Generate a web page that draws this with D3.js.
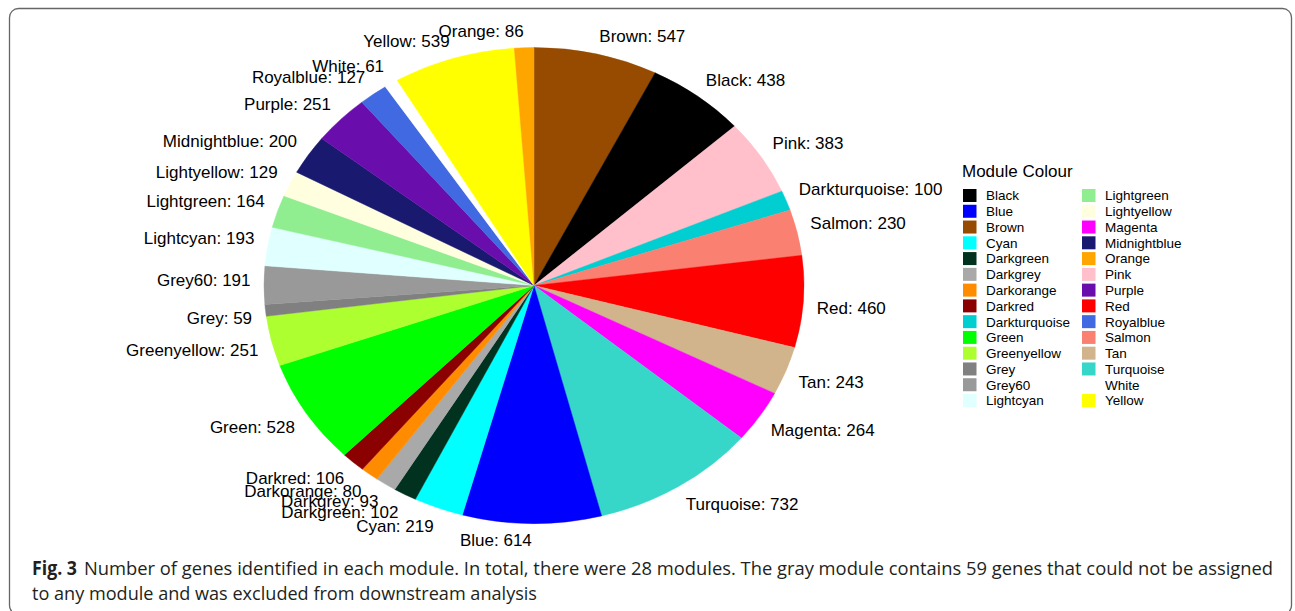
<!DOCTYPE html>
<html>
<head>
<meta charset="utf-8">
<script src="https://cdn.jsdelivr.net/npm/d3@7"></script>
<style>
	body { margin: 0; background: #fff; }
	svg { display: block; }
	.lbl { font-family: "Liberation Sans", Arial, sans-serif; font-size: 17px; fill: #000; }
	.leg { font-family: "Liberation Sans", Arial, sans-serif; font-size: 13.5px; fill: #000; }
	.cap { font-family: "Open Sans", "Noto Sans", sans-serif; font-size: 19px; fill: #231f20; }
</style>
</head>
<body>
<div id="chart"></div>
<script>
	// slices in drawing order, clockwise from 12 o'clock
	var modules = ["Brown", "Black", "Pink", "Darkturquoise", "Salmon", "Red", "Tan",
		"Magenta", "Turquoise", "Blue", "Cyan", "Darkgreen", "Darkgrey", "Darkorange",
		"Darkred", "Green", "Greenyellow", "Grey", "Grey60", "Lightcyan", "Lightgreen",
		"Lightyellow", "Midnightblue", "Purple", "Royalblue", "White", "Yellow", "Orange"];
	var geneCounts = [547, 438, 383, 100, 230, 460, 243, 264, 732, 614, 219, 102, 93, 80,
		106, 528, 251, 59, 191, 193, 164, 129, 200, 251, 127, 61, 539, 86];

	// legend order (alphabetical)
	var legendNames = ["Black", "Blue", "Brown", "Cyan", "Darkgreen", "Darkgrey", "Darkorange",
		"Darkred", "Darkturquoise", "Green", "Greenyellow", "Grey", "Grey60", "Lightcyan",
		"Lightgreen", "Lightyellow", "Magenta", "Midnightblue", "Orange", "Pink", "Purple",
		"Red", "Royalblue", "Salmon", "Tan", "Turquoise", "White", "Yellow"];

	var moduleColours = {
		Black: "#000000", Blue: "#0000ff", Brown: "#964b00", Cyan: "#00ffff",
		Darkgreen: "#013220", Darkgrey: "#a9a9a9", Darkorange: "#ff8c00", Darkred: "#8b0000",
		Darkturquoise: "#00ced1", Green: "#00ff00", Greenyellow: "#adff2f", Grey: "#808080",
		Grey60: "#999999", Lightcyan: "#e0ffff", Lightgreen: "#90ee90", Lightyellow: "#ffffe0",
		Magenta: "#ff00ff", Midnightblue: "#191970", Orange: "#ffa500", Pink: "#ffc0cb",
		Purple: "#6a0dad", Red: "#ff0000", Royalblue: "#4169e1", Salmon: "#fa8072",
		Tan: "#d2b48c", Turquoise: "#36d6c8", White: "#ffffff", Yellow: "#ffff00"
	};

	var captionBold = "Fig. 3";
	var captionLine1 = "Number of genes identified in each module. In total, there were 28 modules. The gray module contains 59 genes that could not be assigned";
	var captionLine2 = "to any module and was excluded from downstream analysis";

	var WIDTH = 1295, HEIGHT = 611;
	var svg = d3.select("#chart").append("svg").attr("width", WIDTH).attr("height", HEIGHT);

	// figure frame
	svg.append("rect").attr("x", 9.5).attr("y", 8.5).attr("width", 1282).attr("height", 606)
		.attr("rx", 9).attr("fill", "none").attr("stroke", "#666").attr("stroke-width", 1.3);

	// pie (image is stretched horizontally, so the pie is an ellipse)
	var cx = 534, cy = 285.5, rx = 270, ry = 238;
	var data = modules.map(function(m, i) { return { name: m, value: geneCounts[i] }; });
	var pie = d3.pie().sort(null).value(function(d) { return d.value; })
		.startAngle(0).endAngle(2 * Math.PI);
	var arcs = pie(data);
	var arc = d3.arc().innerRadius(0).outerRadius(ry);

	var pieG = svg.append("g")
		.attr("transform", "translate(" + cx + "," + cy + ") scale(" + (rx / ry) + ",1)");
	pieG.selectAll("path").data(arcs).enter().append("path")
		.attr("d", arc)
		.attr("fill", function(d) { return moduleColours[d.data.name]; })
		.attr("stroke", function(d) { return moduleColours[d.data.name]; })
		.attr("stroke-width", 0.4);

	// labels just outside the rim, left/right aligned like base R pie();
	// side labels sit a little further from the horizontal midline
	var labelKx = 1.05, labelKy = 1.07, sidePush = 5.5;
	var labelG = svg.append("g");
	arcs.forEach(function(d) {
		var mid = (d.startAngle + d.endAngle) / 2;
		var s = Math.sin(mid), c = Math.cos(mid);
		var lx = cx + labelKx * rx * s;
		var ly = cy - labelKy * ry * c - (c >= 0 ? 1 : -1) * sidePush * Math.abs(s);
		labelG.append("text").attr("class", "lbl")
			.attr("x", lx).attr("y", ly).attr("dy", "0.35em")
			.attr("text-anchor", s < 0 ? "end" : "start")
			.text(d.data.name + ": " + d.data.value);
	});

	// legend
	var legend = svg.append("g").attr("transform", "translate(962,0)");
	legend.append("text").attr("class", "lbl").attr("x", 0).attr("y", 177)
		.style("font-size", "17px").text("Module Colour");
	var rowY = d3.scaleLinear().domain([0, 13]).range([195.5, 400.5]);
	legendNames.forEach(function(n, i) {
		var col = Math.floor(i / 14), row = i % 14;
		var gx = col * 119;
		legend.append("rect").attr("x", gx + 1).attr("y", rowY(row) - 6.5)
			.attr("width", 13.5).attr("height", 13)
			.attr("fill", moduleColours[n]);
		legend.append("text").attr("class", "leg").attr("x", gx + 24).attr("y", rowY(row))
			.attr("dy", "0.36em").text(n);
	});

	// caption
	svg.append("text").attr("class", "cap").attr("x", 32).attr("y", 575)
		.style("font-weight", "bold").attr("textLength", 45)
		.attr("lengthAdjust", "spacingAndGlyphs").text(captionBold);
	svg.append("text").attr("class", "cap").attr("x", 84).attr("y", 575)
		.attr("textLength", 1189).attr("lengthAdjust", "spacingAndGlyphs").text(captionLine1);
	svg.append("text").attr("class", "cap").attr("x", 32).attr("y", 600)
		.attr("textLength", 505).attr("lengthAdjust", "spacingAndGlyphs").text(captionLine2);
</script>
</body>
</html>
